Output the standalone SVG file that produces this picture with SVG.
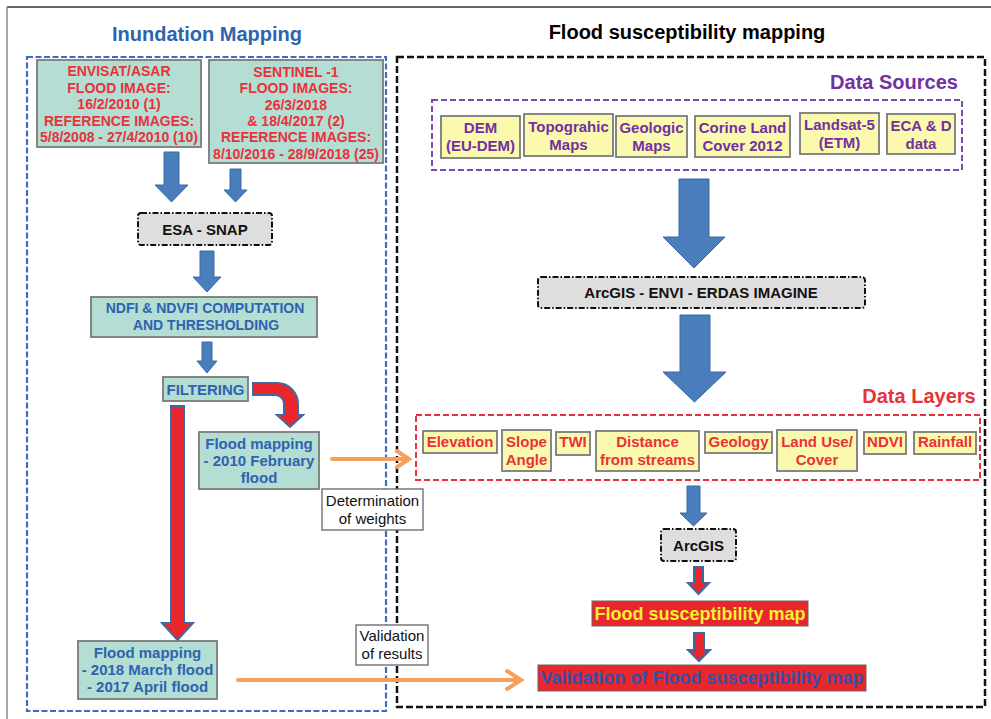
<svg xmlns="http://www.w3.org/2000/svg" width="991" height="719" viewBox="0 0 991 719">
<style>
text{font-family:"Liberation Sans",Arial,sans-serif;text-anchor:middle}
.b{font-weight:bold}
.teal{fill:#b4ddd3;stroke:#7a7a7a;stroke-width:1.8}
.yel{fill:#fbf9ad;stroke:#7a7a7a;stroke-width:1.8}
.gray{fill:#dedede;stroke:#111;stroke-width:2;stroke-dasharray:6 2 1.5 2}
.wbox{fill:#fff;stroke:#666;stroke-width:1.3}
.red{fill:#e8323a}
.blu{fill:#2e63b0}
.pur{fill:#7230a0}
.barrow{fill:#4a7dbb;stroke:#3c6aa3;stroke-width:1}
.rarrow{fill:#e8262b;stroke:#3d6aa3;stroke-width:2}
.or{stroke:#f4a05a;stroke-width:4;fill:none;stroke-linecap:round}
</style>
<rect width="991" height="719" fill="#fff"/>
<g id="frame">
<line x1="7" y1="7" x2="991" y2="7" stroke="#333" stroke-width="1.5"/>
<line x1="7" y1="7" x2="7" y2="719" stroke="#888" stroke-width="1.5"/>
</g>
<g id="panels">
<rect x="27" y="57" width="359" height="654" fill="none" stroke="#3d6cc0" stroke-width="2.2" stroke-dasharray="6 2.5"/>
<rect x="397" y="57" width="588" height="650" fill="none" stroke="#111" stroke-width="2.5" stroke-dasharray="7 3"/>
<rect x="432" y="100" width="530" height="70" fill="none" stroke="#7a4ab0" stroke-width="2" stroke-dasharray="6 3"/>
<rect x="416" y="415" width="564" height="65" fill="none" stroke="#e8323a" stroke-width="2" stroke-dasharray="6 3"/>
<text x="207" y="41" class="b" font-size="20" fill="#2e63b0">Inundation Mapping</text>
<text x="687" y="39" class="b" font-size="20" fill="#000">Flood susceptibility mapping</text>
<text x="894" y="89" class="b pur" font-size="20">Data Sources</text>
<text x="919" y="403" class="b red" font-size="20">Data Layers</text>
</g>
<g id="connectors">
<polygon class="barrow" points="164,152 179,152 179,185 188,185 171.5,202 155,185 164,185"/>
<polygon class="barrow" points="230,169 241,169 241,190 247,190 235.5,202 224,190 230,190"/>
<polygon class="barrow" points="200,251 214,251 214,277 221,277 207,292 193,277 200,277"/>
<polygon class="barrow" points="202,342 212,342 212,361 217,361 207,373 197,361 202,361"/>
<polygon class="barrow" points="679,179 709,179 709,237 725,237 694,268 663,237 679,237"/>
<polygon class="barrow" points="680,315 710,315 710,372 726,372 694.5,402 663,372 680,372"/>
<polygon class="barrow" points="687,486 700,486 700,513 707,513 693.5,526 680,513 687,513"/>
<polygon class="rarrow" points="694,567 703,567 703,583 709,583 698.5,594 688,583 694,583"/>
<polygon class="rarrow" points="694,633 704,633 704,650 710,650 699,661 688,650 694,650"/>
<polygon class="rarrow" points="171,406 184,406 184,623 193,623 177.5,640 162,623 171,623"/>
<path class="rarrow" d="M253,383 H277 A21,21 0 0 1 298,404 V415 H303 L290,427 L277,415 H284 V404 A9,9 0 0 0 275,395 H253 Z"/>
<path class="or" d="M332,459 H408 M397,451 L409,459 L397,467"/>
<path class="or" d="M238,680 H520 M507,671 L521,680 L507,689"/>
</g>
<g id="envisat">
<rect class="teal" x="37" y="60" width="164" height="87"/>
<text class="b red" font-size="14"><tspan x="119" y="76">ENVISAT/ASAR</tspan><tspan x="119" y="92.5">FLOOD IMAGE:</tspan><tspan x="119" y="109">16/2/2010 (1)</tspan><tspan x="119" y="125.5">REFERENCE IMAGES:</tspan><tspan x="119" y="142">5/8/2008 - 27/4/2010 (10)</tspan></text>
</g>
<g id="sentinel">
<rect class="teal" x="209" y="60" width="174" height="103"/>
<text class="b red" font-size="14"><tspan x="296" y="77">SENTINEL -1</tspan><tspan x="296" y="93.3">FLOOD IMAGES:</tspan><tspan x="296" y="109.6">26/3/2018</tspan><tspan x="296" y="125.9">&amp; 18/4/2017 (2)</tspan><tspan x="296" y="142.2">REFERENCE IMAGES:</tspan><tspan x="296" y="158.5">8/10/2016 - 28/9/2018 (25)</tspan></text>
</g>
<g id="esa-snap">
<rect class="gray" x="138" y="213" width="134" height="32" rx="3"/>
<text x="205" y="234.5" class="b" font-size="15" fill="#111">ESA - SNAP</text>
</g>
<g id="ndfi">
<rect class="teal" x="91" y="297" width="226" height="40"/>
<text class="b blu" font-size="14"><tspan x="205" y="313">NDFI &amp; NDVFI COMPUTATION</tspan><tspan x="206" y="330">AND THRESHOLDING</tspan></text>
</g>
<g id="filtering">
<rect class="teal" x="163" y="377" width="85" height="24"/>
<text x="205.5" y="394.5" class="b blu" font-size="15">FILTERING</text>
</g>
<g id="flood2010">
<rect class="teal" x="199" y="432" width="120" height="57"/>
<text class="b blu" font-size="15"><tspan x="259" y="449">Flood mapping</tspan><tspan x="259" y="466">- 2010 February</tspan><tspan x="259" y="483">flood</tspan></text>
</g>
<g id="flood2018">
<rect class="teal" x="78" y="641" width="139" height="58"/>
<text class="b blu" font-size="15"><tspan x="147.5" y="658">Flood mapping</tspan><tspan x="147.5" y="675">- 2018 March flood</tspan><tspan x="147.5" y="692">- 2017 April flood</tspan></text>
</g>
<g id="determination">
<rect class="wbox" x="322" y="489" width="101" height="41"/>
<text font-size="15" fill="#111"><tspan x="372.5" y="506">Determination</tspan><tspan x="372.5" y="524">of weights</tspan></text>
</g>
<g id="validation-results">
<rect class="wbox" x="356" y="625" width="72" height="40"/>
<text font-size="15" fill="#111"><tspan x="392" y="641">Validation</tspan><tspan x="392" y="659">of results</tspan></text>
</g>
<g id="src-dem"><rect class="yel" x="441" y="116" width="79" height="42"/><text class="b pur" font-size="15"><tspan x="480.5" y="133">DEM</tspan><tspan x="480.5" y="151">(EU-DEM)</tspan></text></g>
<g id="src-topo"><rect class="yel" x="524" y="114" width="89" height="42"/><text class="b pur" font-size="15"><tspan x="568.5" y="131.5">Topograhic</tspan><tspan x="568.5" y="149.5">Maps</tspan></text></g>
<g id="src-geo"><rect class="yel" x="616" y="116" width="71" height="41"/><text class="b pur" font-size="15"><tspan x="651.5" y="133">Geologic</tspan><tspan x="651.5" y="151">Maps</tspan></text></g>
<g id="src-corine"><rect class="yel" x="695" y="116" width="95" height="41"/><text class="b pur" font-size="15"><tspan x="742.5" y="133">Corine Land</tspan><tspan x="742.5" y="151">Cover 2012</tspan></text></g>
<g id="src-landsat"><rect class="yel" x="800" y="113" width="79" height="41"/><text class="b pur" font-size="15"><tspan x="839.5" y="130">Landsat-5</tspan><tspan x="839.5" y="148">(ETM)</tspan></text></g>
<g id="src-eca"><rect class="yel" x="887" y="114" width="68" height="40"/><text class="b pur" font-size="15"><tspan x="921" y="131">ECA &amp; D</tspan><tspan x="921" y="149">data</tspan></text></g>
<g id="arcgis-envi">
<rect class="gray" x="538" y="277" width="327" height="31" rx="3"/>
<text x="701" y="297.5" class="b" font-size="15" fill="#111">ArcGIS - ENVI - ERDAS IMAGINE</text>
</g>
<g id="l-elev"><rect class="yel" x="423" y="431" width="74" height="22"/><text x="460" y="447" class="b red" font-size="15">Elevation</text></g>
<g id="l-slope"><rect class="yel" x="502" y="430" width="49" height="41"/><text class="b red" font-size="15"><tspan x="526.5" y="447">Slope</tspan><tspan x="526.5" y="465">Angle</tspan></text></g>
<g id="l-twi"><rect class="yel" x="556" y="432" width="34" height="23"/><text x="573" y="447" class="b red" font-size="15">TWI</text></g>
<g id="l-dist"><rect class="yel" x="596" y="431" width="103" height="40"/><text class="b red" font-size="15"><tspan x="647.5" y="447">Distance</tspan><tspan x="647.5" y="465">from streams</tspan></text></g>
<g id="l-geol"><rect class="yel" x="705" y="432" width="67" height="21"/><text x="738.5" y="447" class="b red" font-size="15">Geology</text></g>
<g id="l-landuse"><rect class="yel" x="777" y="430" width="80" height="41"/><text class="b red" font-size="15"><tspan x="817" y="447">Land Use/</tspan><tspan x="817" y="465">Cover</tspan></text></g>
<g id="l-ndvi"><rect class="yel" x="864" y="432" width="42" height="22"/><text x="885" y="447" class="b red" font-size="15">NDVI</text></g>
<g id="l-rain"><rect class="yel" x="914" y="432" width="62" height="22"/><text x="945" y="447" class="b red" font-size="15">Rainfall</text></g>
<g id="arcgis">
<rect class="gray" x="661" y="529" width="75" height="32" rx="3"/>
<text x="698.5" y="551" class="b" font-size="15" fill="#111">ArcGIS</text>
</g>
<g id="fsm">
<rect x="592" y="601" width="216" height="25" fill="#e8262b" stroke="#666" stroke-width="1"/>
<text x="700" y="619.5" class="b" font-size="18" fill="#f5f032">Flood susceptibility map</text>
</g>
<g id="validation-fsm">
<rect x="538" y="665" width="328" height="26" fill="#e8262b" stroke="#666" stroke-width="1"/>
<text x="702" y="684" class="b" font-size="18" fill="#3a4fa8">Validation of Flood susceptibility map</text>
</g>
</svg>
